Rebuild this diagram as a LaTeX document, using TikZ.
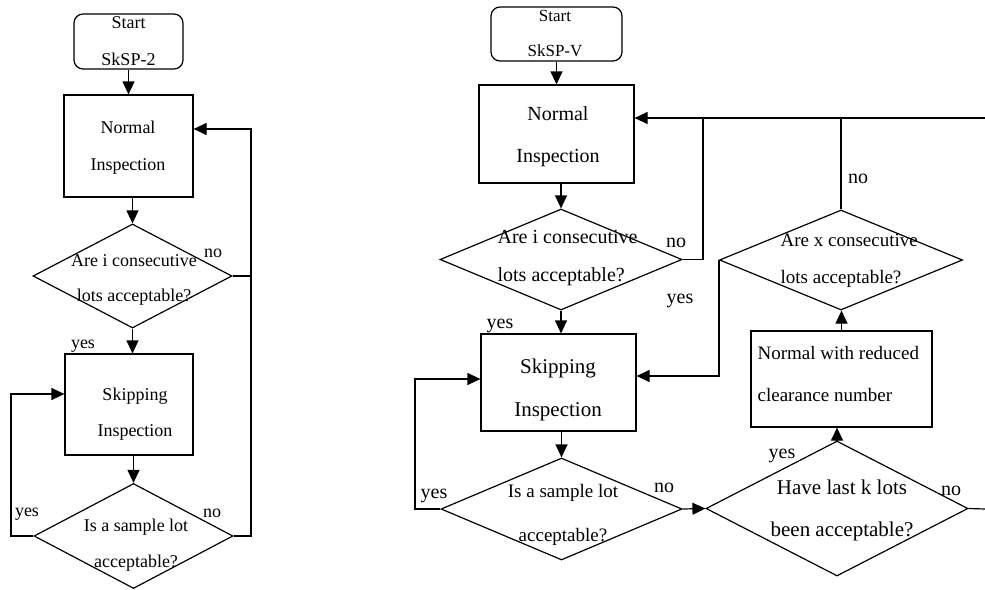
\documentclass[tikz,border=0pt]{standalone}
\usepackage{fontspec}
\setmainfont{Liberation Serif}
\usetikzlibrary{shapes.geometric,arrows.meta}
\newcommand\fsz[2]{\fontsize{#1}{#2}\selectfont}
\begin{document}
\begin{tikzpicture}[x=1pt,y=-1pt,line width=1.2pt,
  arr/.style={-{Triangle[length=13pt,width=12pt]}},
  boxr/.style={draw,rectangle,inner sep=0pt},
  startbox/.style={draw,rectangle,rounded corners=9pt,inner sep=0pt},
  dia/.style={draw,diamond,inner sep=0pt},
  txt/.style={align=center,inner sep=0pt},
  lbl/.style={inner sep=0pt,anchor=base}]
\useasboundingbox (0,0) rectangle (985,589);
% ---------------- left chart ----------------
\node[startbox,minimum width=109pt,minimum height=55pt] (s1) at (128.5,41.5) {};
\node[boxr,minimum width=129pt,minimum height=102pt] (n1) at (128.5,146) {};
\node[dia,minimum width=199pt,minimum height=104pt] (d1) at (132.5,276) {};
\node[boxr,minimum width=128pt,minimum height=101pt] (sk1) at (129,404.5) {};
\node[dia,minimum width=199pt,minimum height=105pt] (d2) at (133.5,536) {};
\node[txt,font=\fsz{18}{37}] (ts1) at (128.5,41.5) {Start\\SkSP-2};
\node[txt,font=\fsz{18}{37}] (tn1) at (128,148) {Normal\\Inspection};
\node[txt,font=\fsz{18}{35}] (td1) at (134,279.5) {Are i consecutive\\lots acceptable?};
\node[txt,font=\fsz{18}{36}] (tsk1) at (135,414) {Skipping\\Inspection};
\node[txt,font=\fsz{18}{36}] (td2) at (136,545) {Is a sample lot\\acceptable?};
\node[lbl,font=\fsz{18}{20}] (l1) at (213,257) {no};
\node[lbl,font=\fsz{18}{20}] (l2) at (83,348) {yes};
\node[lbl,font=\fsz{18}{20}] (l3) at (27,516) {yes};
\node[lbl,font=\fsz{18}{20}] (l4) at (212,517) {no};
\coordinate (cl) at (11,394);
\coordinate (cr) at (251,129);
\draw[arr] (s1.south) -- (s1.south |- n1.north);
\draw[arr] (d1.north |- n1.south) -- (d1.north);
\draw[arr] (d1.south) -- (d1.south |- sk1.north);
\draw[arr] (d2.north |- sk1.south) -- (d2.north);
\draw[arr] (d2.west) -| (cl) -- (cl -| sk1.west);
\draw[arr] (d2.east) -| (cr) -- (cr -| n1.east);
\draw (d1.east) -- (d1.east -| cr);
% ---------------- right chart ----------------
\node[startbox,minimum width=131pt,minimum height=54pt] (s2) at (556.5,34) {};
\node[boxr,minimum width=155pt,minimum height=98pt] (n2) at (556.5,134) {};
\node[dia,minimum width=242pt,minimum height=101pt] (e1) at (561,259.5) {};
\node[boxr,minimum width=155pt,minimum height=97pt] (sk2) at (558.5,382.5) {};
\node[dia,minimum width=241pt,minimum height=102pt] (e2) at (561.5,509) {};
\node[dia,minimum width=262pt,minimum height=135pt] (e3) at (837,508.5) {};
\node[boxr,minimum width=181pt,minimum height=96pt] (nw) at (841.5,379) {};
\node[dia,minimum width=243pt,minimum height=100pt] (e4) at (841,260) {};
\node[txt,font=\fsz{17}{35}] (ts2) at (555,33.5) {Start\\SkSP-V};
\node[txt,font=\fsz{20}{42}] (tn2) at (558,137) {Normal\\Inspection};
\node[txt,align=left,anchor=west,font=\fsz{20}{38}] (te1) at (497,258) {Are i consecutive\\lots acceptable?};
\node[txt,font=\fsz{21}{43}] (tsk2) at (558,390) {Skipping\\Inspection};
\node[txt,font=\fsz{19}{44}] (te2) at (563,515) {Is a sample lot\\acceptable?};
\node[txt,font=\fsz{21}{42}] (te3) at (842,510) {Have last k lots\\been acceptable?};
\node[txt,align=left,anchor=west,font=\fsz{19}{42}] (tnw) at (757,374) {Normal with reduced\\clearance number};
\node[txt,align=left,anchor=west,font=\fsz{19}{37}] (te4) at (780,261) {Are x consecutive\\lots acceptable?};
\node[lbl,font=\fsz{20}{22}] (m1) at (676,247) {no};
\node[lbl,font=\fsz{20}{22}] (m2) at (680,303) {yes};
\node[lbl,font=\fsz{20}{22}] (m3) at (500,328) {yes};
\node[lbl,font=\fsz{20}{22}] (m4) at (434,498) {yes};
\node[lbl,font=\fsz{20}{22}] (m5) at (664,492) {no};
\node[lbl,font=\fsz{20}{22}] (m6) at (782,458) {yes};
\node[lbl,font=\fsz{20}{22}] (m7) at (951,495) {no};
\node[lbl,font=\fsz{20}{22}] (m8) at (858,183) {no};
\coordinate (top) at (985,118);
\coordinate (j1) at (703,118);
\coordinate (k1) at (415,379);
\coordinate (k2) at (720,376);
\coordinate (out) at (985,509);
\draw[arr] (s2.south) -- (s2.south |- n2.north);
\draw[arr] (e1.north |- n2.south) -- (e1.north);
\draw[arr] (top) -- (top -| n2.east);
\draw (e1.east) -| (j1);
\draw (e4.north) -- (e4.north |- top);
\draw[arr] (e1.south) -- (e1.south |- sk2.north);
\draw[arr] (e2.north |- sk2.south) -- (e2.north);
\draw[arr] (e2.west) -| (k1) -- (k1 -| sk2.west);
\draw[arr] (e2.east) -- (e3.west);
\draw[arr] (e3.north) -- (e3.north |- nw.south);
\draw[arr] (nw.north) -- (nw.north |- e4.south);
\draw[arr] (e4.west) |- (k2 -| sk2.east);
\draw (e3.east) -- (out);
\end{tikzpicture}
\end{document}
